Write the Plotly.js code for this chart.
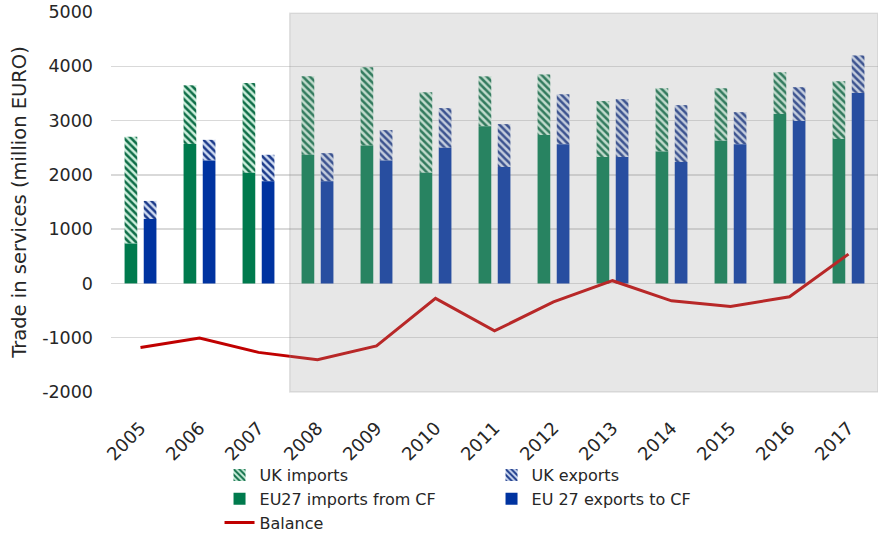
<!DOCTYPE html>
<html>
<head>
<meta charset="utf-8">
<script src="https://cdn.plot.ly/plotly-3.0.1.min.js"></script>
<style>
  html, body { margin: 0; padding: 0; background: #ffffff; }
  #chart { width: 878px; height: 533px; }
</style>
</head>
<body>
<div id="chart"></div>
<script>
// ---- Data (million EURO) ----
const years = ['2005','2006','2007','2008','2009','2010','2011','2012','2013','2014','2015','2016','2017'];
const eu27Imports = [735, 2570, 2040, 2370, 2540, 2040, 2895, 2735, 2330, 2430, 2630, 3120, 2660];
const ukImports   = [1965, 1080, 1650, 1445, 1440, 1480, 920, 1115, 1030, 1165, 965, 770, 1065];
const eu27Exports = [1185, 2265, 1880, 1880, 2265, 2500, 2145, 2565, 2330, 2235, 2565, 2990, 3510];
const ukExports   = [335, 380, 490, 520, 560, 730, 790, 920, 1065, 1050, 590, 625, 690];
const balance     = [-1180, -1005, -1270, -1405, -1150, -275, -875, -340, 50, -320, -425, -245, 540];
const yTickVals   = [-2000, -1000, 0, 1000, 2000, 3000, 4000, 5000];
const yTickText   = ['-2000', '-1000', '0', '1000', '2000', '3000', '4000', '5000'];

const FONT = 'DejaVu Sans, Verdana, sans-serif';
const TXT = '#262626';
const BW = 0.215;

const traces = [
  {
    type: 'bar', name: 'UK imports', x: years, y: ukImports, base: eu27Imports,
    width: BW, offset: -0.27,
    marker: { color: '#ccefdc', pattern: { shape: '\\', fgcolor: '#0f6e48', bgcolor: '#ccefdc', size: 5, solidity: 0.5 } },
    hoverinfo: 'skip'
  },
  {
    type: 'bar', name: 'UK exports', x: years, y: ukExports, base: eu27Exports,
    width: BW, offset: 0.055,
    marker: { color: '#d0dcf2', pattern: { shape: '\\', fgcolor: '#1c3a8a', bgcolor: '#d0dcf2', size: 5, solidity: 0.5 } },
    hoverinfo: 'skip'
  },
  {
    type: 'bar', name: 'EU27 imports from CF', x: years, y: eu27Imports,
    width: BW, offset: -0.27,
    marker: { color: '#007a4d' }, hoverinfo: 'skip'
  },
  {
    type: 'bar', name: 'EU 27 exports to CF', x: years, y: eu27Exports,
    width: BW, offset: 0.055,
    marker: { color: '#0033a0' }, hoverinfo: 'skip'
  },
  {
    type: 'scatter', mode: 'lines', name: 'Balance', x: years, y: balance,
    line: { color: '#c00000', width: 3 }, hoverinfo: 'skip'
  }
];

const layout = {
  width: 878, height: 533,
  margin: { l: 111, r: 0, t: 12, b: 141, autoexpand: false },
  paper_bgcolor: '#ffffff', plot_bgcolor: '#ffffff',
  barmode: 'overlay',
  font: { family: FONT, size: 16, color: TXT },
  xaxis: {
    type: 'category', tickangle: -45, showgrid: false, showline: false, zeroline: false,
    ticks: '', ticklabelstandoff: 21, automargin: false,
    tickfont: { family: FONT, size: 18, color: TXT }, range: [-0.5, 12.5]
  },
  yaxis: {
    range: [-2000, 5000], tickmode: 'array', tickvals: yTickVals, ticktext: yTickText,
    automargin: false,
    showgrid: true, gridcolor: '#d9d9d9', gridwidth: 1.5,
    zeroline: true, zerolinecolor: '#d9d9d9', zerolinewidth: 1.5,
    showline: false, ticks: '', ticklabelstandoff: 17,
    tickfont: { family: FONT, size: 17.5, color: TXT },
    title: { text: 'Trade in services (million EURO)', font: { family: FONT, size: 19.5, color: TXT }, standoff: 10 }
  },
  shapes: [
    {
      type: 'rect', xref: 'x', yref: 'paper', x0: 2.53, x1: 12.5, y0: 0, y1: 0.997,
      fillcolor: 'rgba(160,160,160,0.25)', line: { color: 'rgba(150,150,150,0.25)', width: 1.5 },
      layer: 'above'
    }
  ],
  showlegend: true,
  legend: {
    orientation: 'h', x: 0.1415, xanchor: 'left', y: -0.174, yanchor: 'top',
    entrywidthmode: 'pixels', entrywidth: 227,
    font: { family: FONT, size: 16, color: TXT },
    bgcolor: 'rgba(0,0,0,0)', tracegroupgap: 0, traceorder: 'normal'
  }
};

Plotly.newPlot('chart', traces, layout, { displayModeBar: false, staticPlot: true });
</script>
</body>
</html>
